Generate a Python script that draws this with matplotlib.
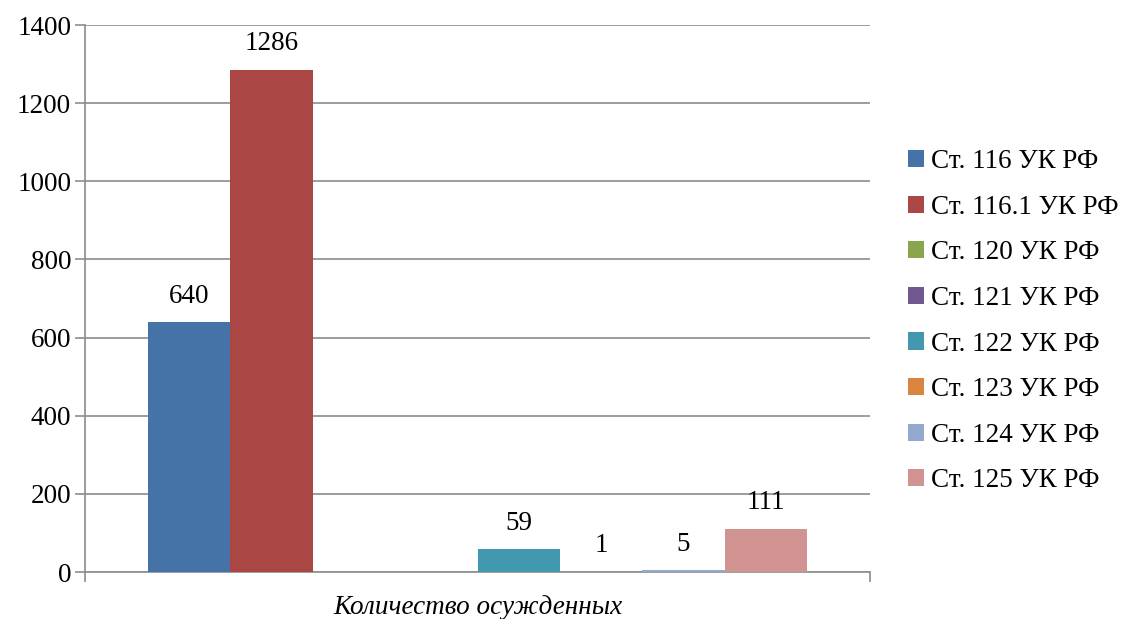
import matplotlib
matplotlib.use("Agg")
import matplotlib.pyplot as plt
import numpy as np
from matplotlib.patches import Patch

plt.rcParams['font.family'] = ['Liberation Serif', 'DejaVu Serif']

category = "Количество осужденных"
series = ["Ст. 116 УК РФ", "Ст. 116.1 УК РФ", "Ст. 120 УК РФ", "Ст. 121 УК РФ",
          "Ст. 122 УК РФ", "Ст. 123 УК РФ", "Ст. 124 УК РФ", "Ст. 125 УК РФ"]
values = [640, 1286, None, None, 59, 1, 5, 111]
colors = ["#4572A7", "#AA4643", "#89A54E", "#71588F", "#4198AF", "#DB843D", "#93A9CF", "#D19392"]
yticks = [0, 200, 400, 600, 800, 1000, 1200, 1400]

FS = 19.5

fig = plt.figure(figsize=(11.29, 6.19), dpi=100)
ax = fig.add_axes([0.0753, 0.0759, 0.7706 - 0.0753, 0.9596 - 0.0759])

n = len(series)
group_w = 0.84
bw = group_w / n
for i, (name, v, c) in enumerate(zip(series, values, colors)):
    x = -group_w / 2 + bw * (i + 0.5)
    if v is None:
        continue
    ax.bar(x, v, width=bw, color=c, zorder=3)
    ax.annotate(str(v), (x, v), xytext=(0, 18.5), textcoords="offset points",
                ha="center", va="center", fontsize=FS, zorder=4)

ax.set_xlim(-0.5, 0.5)
ax.set_ylim(0, 1400)
ax.set_yticks(yticks)
ax.set_yticklabels([str(t) for t in yticks], fontsize=FS)
ax.yaxis.grid(True, color="#8c8c8c", linewidth=1.2, zorder=0)
ax.set_xticks([-0.5, 0.5])
ax.set_xticklabels(["", ""])
ax.tick_params(axis="x", direction="out", length=7, color="#8c8c8c", width=1.2)
ax.tick_params(axis="y", direction="out", length=7, color="#8c8c8c", width=1.2, pad=3)
for s in ["top", "right"]:
    ax.spines[s].set_visible(False)
for s in ["left", "bottom"]:
    ax.spines[s].set_color("#8c8c8c")
    ax.spines[s].set_linewidth(1.2)
ax.text(0.5, -0.065, category, transform=ax.transAxes, ha="center", va="center",
        fontsize=FS, style="italic")

handles = [Patch(facecolor=c, edgecolor="none") for c in colors]
fig.legend(handles, series, loc="center left", bbox_to_anchor=(0.792, 0.481),
           frameon=False, fontsize=FS, handlelength=0.6, handleheight=0.6,
           handletextpad=0.25, labelspacing=0.76, borderpad=0)

fig.savefig("out.png", dpi=100)
